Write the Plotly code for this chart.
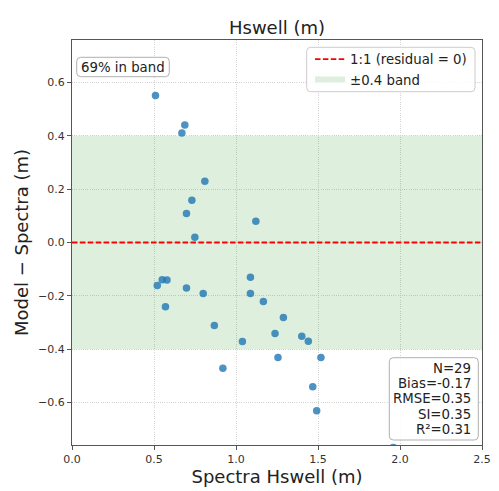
import plotly.graph_objects as go

# ---- data ----
spectra_hswell = [0.509, 0.688, 0.670, 0.810, 0.731, 0.698, 0.749, 1.121,
                  0.520, 0.550, 0.579, 0.698, 0.800, 0.570, 0.868, 1.039,
                  1.088, 1.088, 1.167, 1.238, 1.256, 0.920, 1.289, 1.401,
                  1.441, 1.518, 1.468, 1.492, 1.959]
residual = [0.551, 0.440, 0.410, 0.230, 0.158, 0.109, 0.020, 0.080,
            -0.161, -0.140, -0.141, -0.171, -0.191, -0.241, -0.311, -0.371,
            -0.130, -0.191, -0.221, -0.341, -0.431, -0.471, -0.281, -0.351,
            -0.370, -0.431, -0.541, -0.631, -0.768]
band_half_width = 0.4
x_limits = [0.0, 2.5]
y_limits = [-0.759, 0.759]
x_ticks = [0.0, 0.5, 1.0, 1.5, 2.0, 2.5]
y_ticks = [-0.6, -0.4, -0.2, 0.0, 0.2, 0.4, 0.6]
band_label = "69% in band"
stats_lines = ["N=29", "Bias=-0.17", "RMSE=0.35", "SI=0.35", "R²=0.31"]

FONT = "DejaVu Sans"
W, H = 499, 491
L, R, T, B = 72, 17, 40, 46
PW, PH = W - L - R, H - T - B


def px(x):
    return (x - L) / PW


def py(y):
    return 1 - (y - T) / PH


def rrect(x0, y0, x1, y1, r=4):
    # rounded rectangle in paper coordinates from pixel coordinates
    rx, ry = r / PW, r / PH
    a, b, c, d = px(x0), py(y1), px(x1), py(y0)  # left, bottom, right, top
    return (f"M{a+rx},{b} L{c-rx},{b} Q{c},{b} {c},{b+ry} L{c},{d-ry} "
            f"Q{c},{d} {c-rx},{d} L{a+rx},{d} Q{a},{d} {a},{d-ry} "
            f"L{a},{b+ry} Q{a},{b} {a+rx},{b} Z")


fig = go.Figure()

# band
fig.add_trace(go.Scatter(
    x=[x_limits[0], x_limits[1], x_limits[1], x_limits[0], x_limits[0]],
    y=[-band_half_width, -band_half_width, band_half_width, band_half_width, -band_half_width],
    fill="toself", fillcolor="rgba(0,128,0,0.13)", mode="none",
    name="±0.4 band", legendrank=2, hoverinfo="skip"))

# points
fig.add_trace(go.Scatter(
    x=spectra_hswell, y=residual, mode="markers",
    marker=dict(size=7.5, color="rgba(31,119,180,0.8)", line=dict(width=0)),
    showlegend=False))

# zero line
fig.add_trace(go.Scatter(
    x=x_limits, y=[0, 0], mode="lines",
    line=dict(color="red", width=1.8, dash="5.5px,2.4px"),
    name="1:1 (residual = 0)", legendrank=1))

axis_common = dict(
    showline=True, linecolor="#555555", linewidth=1, mirror=True,
    ticks="outside", ticklen=4, tickwidth=1, tickcolor="#555555",
    showgrid=True, gridcolor="#d4d4d4", gridwidth=0.8, griddash="1px,1.2px",
    zeroline=False, automargin=False,
    tickfont=dict(family=FONT, size=11, color="#333333"),
)

fig.update_xaxes(range=x_limits, tickvals=x_ticks, tickformat=".1f",
                 title=dict(text="Spectra Hswell (m)", standoff=3,
                            font=dict(family=FONT, size=18, color="#222222")),
                 **axis_common)
fig.update_yaxes(range=y_limits, tickvals=y_ticks, tickformat=".1f",
                 title=dict(text="Model − Spectra (m)", standoff=4,
                            font=dict(family=FONT, size=18, color="#222222")),
                 **axis_common)

shapes = [
    dict(type="path", xref="paper", yref="paper", path=rrect(76.7, 57.3, 169.3, 76.7),
         line=dict(color="#b0b0b0", width=1), fillcolor="rgba(255,255,255,0.85)", layer="above"),
    dict(type="path", xref="paper", yref="paper", path=rrect(389.3, 357.7, 478.3, 440),
         line=dict(color="#b0b0b0", width=1), fillcolor="rgba(255,255,255,0.85)", layer="above"),
    dict(type="path", xref="paper", yref="paper", path=rrect(306.7, 47.3, 475, 91.7),
         line=dict(color="#cccccc", width=1), fillcolor="rgba(255,255,255,0.85)", layer="above"),
]

annotations = [
    dict(text=band_label, xref="paper", yref="paper", x=px(123), y=py(67),
         xanchor="center", yanchor="middle", showarrow=False,
         font=dict(family=FONT, size=13.3, color="#222222")),
]
line_y0, line_dy = 368.5, 15.2
for i, s in enumerate(stats_lines):
    annotations.append(dict(
        text=s, xref="paper", yref="paper", x=px(473), y=py(line_y0 + i * line_dy),
        xanchor="right", yanchor="middle", showarrow=False,
        font=dict(family=FONT, size=13.3, color="#222222")))

fig.update_layout(
    width=W, height=H, margin=dict(l=L, r=R, t=T, b=B, autoexpand=False),
    plot_bgcolor="white", paper_bgcolor="white",
    title=dict(text="Hswell (m)", x=px(277), xref="paper", xanchor="center",
               y=1 - 28 / H, yanchor="middle",
               font=dict(family=FONT, size=18, color="#222222")),
    legend=dict(x=px(310), y=py(44), xanchor="left", yanchor="top",
                bgcolor="rgba(0,0,0,0)", borderwidth=0,
                font=dict(family=FONT, size=13.3, color="#222222"),
                tracegroupgap=0, itemwidth=30),
    shapes=shapes, annotations=annotations,
)

fig.write_html("out.html")
